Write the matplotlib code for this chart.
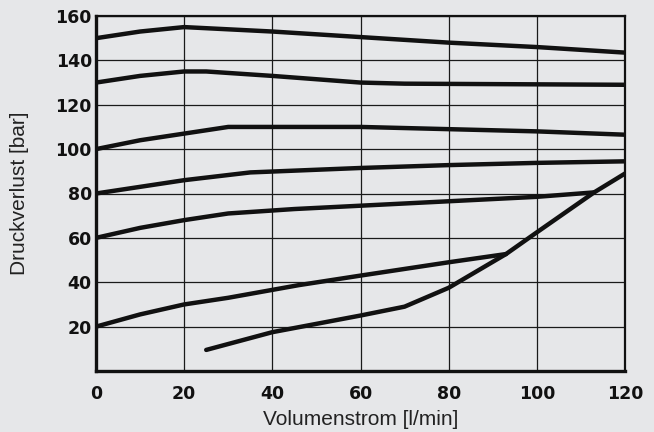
import matplotlib.pyplot as plt

# Druckverlust-Kennlinien
x1 = [0, 10, 20, 40, 60, 80, 100, 120]
y1 = [150, 153, 155, 153, 150.5, 148, 146, 143.5]

x2 = [0, 10, 20, 25, 40, 60, 70, 120]
y2 = [130, 133, 135, 135, 133, 130, 129.5, 129]

x3 = [0, 10, 20, 30, 60, 80, 100, 120]
y3 = [100, 104, 107, 110, 110, 109, 108, 106.5]

x4 = [0, 20, 35, 60, 80, 100, 120]
y4 = [80, 86, 89.5, 91.5, 92.8, 93.8, 94.5]

x5 = [0, 10, 20, 30, 45, 60, 80, 100, 113]
y5 = [60, 64.5, 68, 71, 73, 74.5, 76.5, 78.5, 80.5]

x6 = [0, 10, 20, 30, 46, 60, 80, 93]
y6 = [20, 25.5, 30, 33, 38.7, 43, 49, 52.7]

x7 = [25, 40, 60, 70, 80, 93, 100, 113, 120]
y7 = [9.5, 17.5, 25, 29, 37.5, 52.7, 62.5, 80.5, 89]

curves = [(x1, y1), (x2, y2), (x3, y3), (x4, y4), (x5, y5), (x6, y6), (x7, y7)]

xticks = [0, 20, 40, 60, 80, 100, 120]
yticks = [20, 40, 60, 80, 100, 120, 140, 160]

bg = '#e6e7e9'
fig = plt.figure(figsize=(6.54, 4.32), dpi=100, facecolor=bg)
ax = fig.add_axes([96 / 654, 1 - 371 / 432, 529 / 654, 355 / 432])
ax.set_facecolor(bg)

for xs, ys in curves:
    ax.plot(xs, ys, color='#111111', lw=3.2, solid_capstyle='round', zorder=3)

ax.set_xlim(0, 120)
ax.set_ylim(0, 160)
ax.set_xticks(xticks)
ax.set_yticks(yticks)
ax.grid(True, color='#1a1a1a', lw=0.9)
ax.tick_params(length=0, labelsize=12.5, labelcolor='#111111')
ax.tick_params(axis='x', pad=10)
ax.tick_params(axis='y', pad=3)
for lab in ax.get_xticklabels() + ax.get_yticklabels():
    lab.set_fontweight('bold')

for side, w in [('left', 2.4), ('bottom', 2.4), ('top', 1.6), ('right', 1.6)]:
    ax.spines[side].set_linewidth(w)
    ax.spines[side].set_color('#111111')

ax.set_xlabel('Volumenstrom [l/min]', fontsize=15, family='Liberation Sans', color='#222222', labelpad=5)
ax.set_ylabel('Druckverlust [bar]', fontsize=15, family='Liberation Sans', color='#222222', labelpad=19)

fig.savefig('out.png', dpi=100, facecolor=bg)
